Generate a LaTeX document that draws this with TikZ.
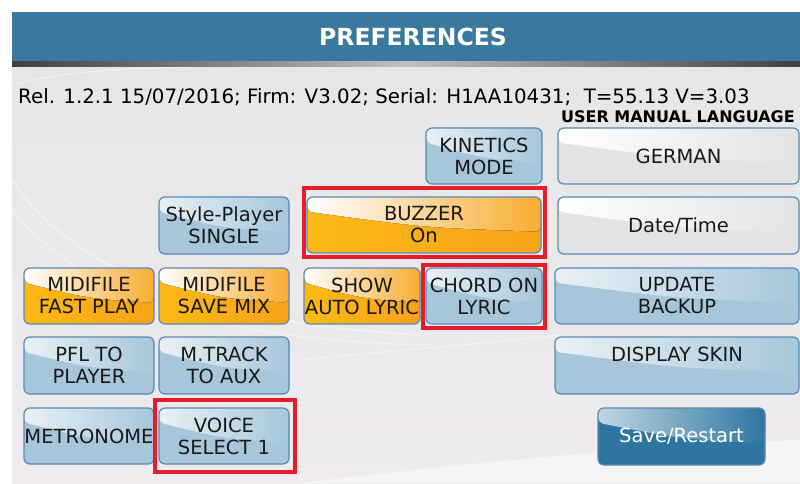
\documentclass[tikz,border=0pt]{standalone}
\usepackage{fontspec}
\setmainfont{DejaVu Sans}
\usetikzlibrary{calc}

\definecolor{headblue}{RGB}{58,121,158}
\definecolor{scrtop}{RGB}{230,230,231}
\definecolor{scrbot}{RGB}{239,235,239}
\definecolor{btnblue}{RGB}{166,198,218}
\definecolor{btnedge}{RGB}{88,138,180}
\definecolor{btngray}{RGB}{227,227,229}
\definecolor{orlight}{RGB}{252,185,20}
\definecolor{ordeep}{RGB}{248,163,26}
\definecolor{saveblue}{RGB}{46,118,160}
\definecolor{markred}{RGB}{230,28,38}

\newcommand\btnfont{\fontsize{19.5}{22}\selectfont}
\newcommand\titlefont{\fontsize{23.5}{26}\selectfont\bfseries}
\newcommand\infofont{\fontsize{19.8}{24}\selectfont}
\newcommand\langfont{\fontsize{16}{18}\selectfont\bfseries}

\tikzset{
  wh/.style 2 args={minimum width=#1pt, minimum height=#2pt},
  gloss/.style n args={3}{path picture={
    \coordinate (gA) at ($(path picture bounding box.north west)!0.26!(path picture bounding box.south west)$);
    \coordinate (gB) at ($(path picture bounding box.north east)!0.62!(path picture bounding box.south east)$);
    \fill[left color=#1, middle color=#2, right color=#3]
      (path picture bounding box.north west) -- (path picture bounding box.north east)
      -- (gB) .. controls ($(gA)!0.5!(gB)+(0,-6)$) .. (gA) -- cycle;}},
  btn/.style={draw=btnedge, line width=1.2pt, rounded corners=6pt, inner sep=0pt,
    align=center, font=\btnfont, text=black!90},
  bluebtn/.style={btn, fill=btnblue, gloss={white!75!btnblue}{btnblue}{btnblue}},
  graybtn/.style={btn, fill=btngray, gloss={white}{white!40!btngray}{btngray}},
  orangebtn/.style={btn, left color=orlight, middle color=orlight, right color=ordeep,
    gloss={white}{orlight!65!white}{ordeep!90!white}},
  savebtn/.style={btn, fill=saveblue, gloss={white!70!saveblue}{saveblue}{saveblue}, text=white},
  redbox/.style={draw=markred, line width=4pt}
}

\begin{document}
\begin{tikzpicture}[x=1pt,y=1pt]
  \useasboundingbox (0,0) rectangle (800,-484);
  \fill[white] (0,0) rectangle (800,-484);
  % screen background
  \shade[top color=scrtop, bottom color=scrbot] (12,-63) rectangle (800,-483);
  \fill[black!4] (300,-483) .. controls (450,-465) and (650,-445) .. (800,-440)
    -- (800,-483) -- cycle;
  \draw[white, line width=1.2pt, opacity=0.5] (12,-180) .. controls (60,-250) and (160,-320) .. (420,-335);
  \draw[white, line width=1pt, opacity=0.45] (12,-210) .. controls (70,-280) and (180,-340) .. (430,-345);
  \draw[white, line width=1pt, opacity=0.45] (300,-360) .. controls (400,-350) and (470,-345) .. (560,-335);
  \draw[white, line width=1pt, opacity=0.5] (12,-85) .. controls (60,-72) and (120,-68) .. (200,-67);
  % header
  \fill[headblue] (12,-12) rectangle (800,-63);
  \shade[left color=black!75, right color=black!75, middle color=gray!50] (12,-62) rectangle (800,-67);
  \node[font=\titlefont, text=white] (title) at (413,-37) {PREFERENCES};
  \node[anchor=west, inner sep=0pt, font=\infofont] (info) at (18,-97)
    {Rel. 1.2.1 15/07/2016; Firm: V3.02; Serial: H1AA10431;\ \ T=55.13 V=3.03};
  \node[anchor=east, inner sep=0pt, font=\langfont] (lang) at (795,-117) {USER MANUAL LANGUAGE};

  % buttons
  \node[bluebtn, wh={116}{56}] (kinetics) at (484,-156) {KINETICS\\MODE};
  \node[graybtn, wh={241}{56}] (german) at (678.5,-156) {GERMAN};
  \node[bluebtn, wh={130}{57}] (styleplayer) at (224,-225.5) {Style-Player\\SINGLE};
  \node[orangebtn, wh={234}{56}] (buzzer) at (424,-225) {BUZZER\\On};
  \node[graybtn, wh={241}{57}] (datetime) at (678.5,-225.5) {Date/Time};
  \node[orangebtn, wh={130}{56}] (fastplay) at (89,-296) {MIDIFILE\\FAST PLAY};
  \node[orangebtn, wh={130}{56}] (savemix) at (224,-296) {MIDIFILE\\SAVE MIX};
  \node[orangebtn, wh={116}{56}] (autolyric) at (362,-296) {SHOW\\AUTO LYRIC};
  \node[bluebtn, wh={116}{56}] (chordlyric) at (484,-296) {CHORD ON\\LYRIC};
  \node[bluebtn, wh={244}{56}] (backup) at (677,-296) {UPDATE\\BACKUP};
  \node[bluebtn, wh={130}{57}] (pfl) at (89,-365.5) {PFL TO\\PLAYER};
  \node[bluebtn, wh={130}{57}] (mtrack) at (224,-365.5) {M.TRACK\\TO AUX};
  \node[bluebtn, wh={244}{57}] (skin) at (677,-365.5) {DISPLAY SKIN\\\mbox{}};
  \node[bluebtn, wh={130}{56}] (metronome) at (89,-436) {METRONOME};
  \node[bluebtn, wh={130}{56}] (voice) at (224,-436) {VOICE\\SELECT 1};
  \node[savebtn, wh={167}{57}] (save) at (681.5,-436.5) {Save/Restart};

  % highlights
  \draw[redbox] ([shift={(-2,8)}]buzzer.north west) rectangle ([shift={(3,-3)}]buzzer.south east);
  \draw[redbox] ([shift={(-2,2)}]chordlyric.north west) rectangle ([shift={(2,-3)}]chordlyric.south east);
  \draw[redbox] ([shift={(-3,7)}]voice.north west) rectangle ([shift={(5,-7)}]voice.south east);
\end{tikzpicture}
\end{document}
